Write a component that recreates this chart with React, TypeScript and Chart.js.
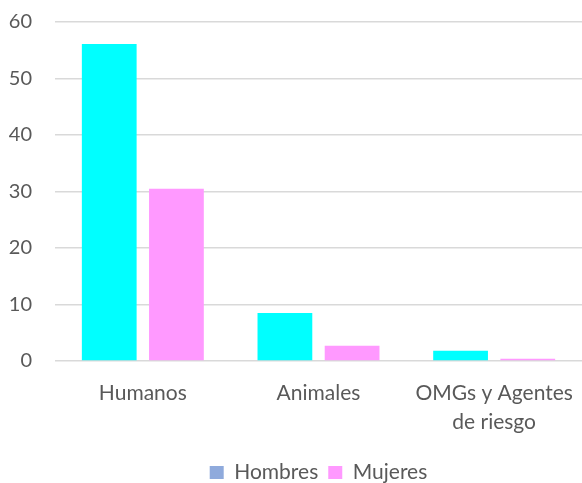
import React, { useEffect, useRef } from "react";
import { Chart, registerables } from "chart.js";

Chart.register(...registerables);

const categories: (string | string[])[] = ["Humanos", "Animales", ["OMGs y Agentes", "de riesgo"]];
const hombres = [56.1, 8.5, 1.8];
const mujeres = [30.5, 2.7, 0.4];
const yTicks = [0, 10, 20, 30, 40, 50, 60];

const FONT = "Lato, 'Liberation Sans', sans-serif";
const TEXT = "#595959";

export default function App() {
  const ref = useRef<HTMLCanvasElement | null>(null);
  useEffect(() => {
    if (!ref.current) return;
    const chart = new Chart(ref.current, {
      type: "bar",
      data: {
        labels: categories,
        datasets: [
          { label: "Hombres", data: hombres, backgroundColor: "#00FFFF", categoryPercentage: 0.765, barPercentage: 0.815 },
          { label: "Mujeres", data: mujeres, backgroundColor: "#FF99FF", categoryPercentage: 0.765, barPercentage: 0.815 },
        ],
      },
      options: {
        animation: false,
        responsive: false,
        layout: { padding: { top: 22, right: 0, left: 0, bottom: -10 } },
        plugins: {
          tooltip: { enabled: false },
          legend: {
            position: "bottom",
            fullSize: false,
            labels: {
              font: { family: FONT, size: 21 },
              color: TEXT,
              boxWidth: 14,
              boxHeight: 13,
              padding: 10,
              generateLabels: () => [
                { text: "Hombres", fillStyle: "#8FAADC", strokeStyle: "#8FAADC", lineWidth: 0, datasetIndex: 0, fontColor: TEXT },
                { text: "Mujeres", fillStyle: "#FF99FF", strokeStyle: "#FF99FF", lineWidth: 0, datasetIndex: 1, fontColor: TEXT },
              ],
            },
          },
        },
        scales: {
          x: {
            grid: { display: false },
            border: { display: false },
            ticks: { font: { family: FONT, size: 21, lineHeight: 1.38 }, color: TEXT, padding: 10, maxRotation: 0 },
            afterFit: (s: any) => { s.height = 91; s.paddingLeft = 0; s.paddingRight = 0; },
          },
          y: {
            min: 0,
            max: 60,
            afterBuildTicks: (s: any) => { s.ticks = yTicks.map((v) => ({ value: v })); },
            grid: { color: "#D9D9D9", lineWidth: 1.5, drawTicks: false },
            border: { display: false },
            ticks: { font: { family: FONT, size: 20 }, color: TEXT, padding: 23 },
            afterFit: (s: any) => { s.width = 55; s.paddingTop = 0; s.paddingBottom = 0; },
          },
        },
      },
    });
    return () => chart.destroy();
  }, []);
  return (
    <div style={{ position: "absolute", left: 0, top: 0, width: 582, height: 483, background: "#fff" }}>
      <canvas ref={ref} width={582} height={483} style={{ width: 582, height: 483 }} />
    </div>
  );
}
